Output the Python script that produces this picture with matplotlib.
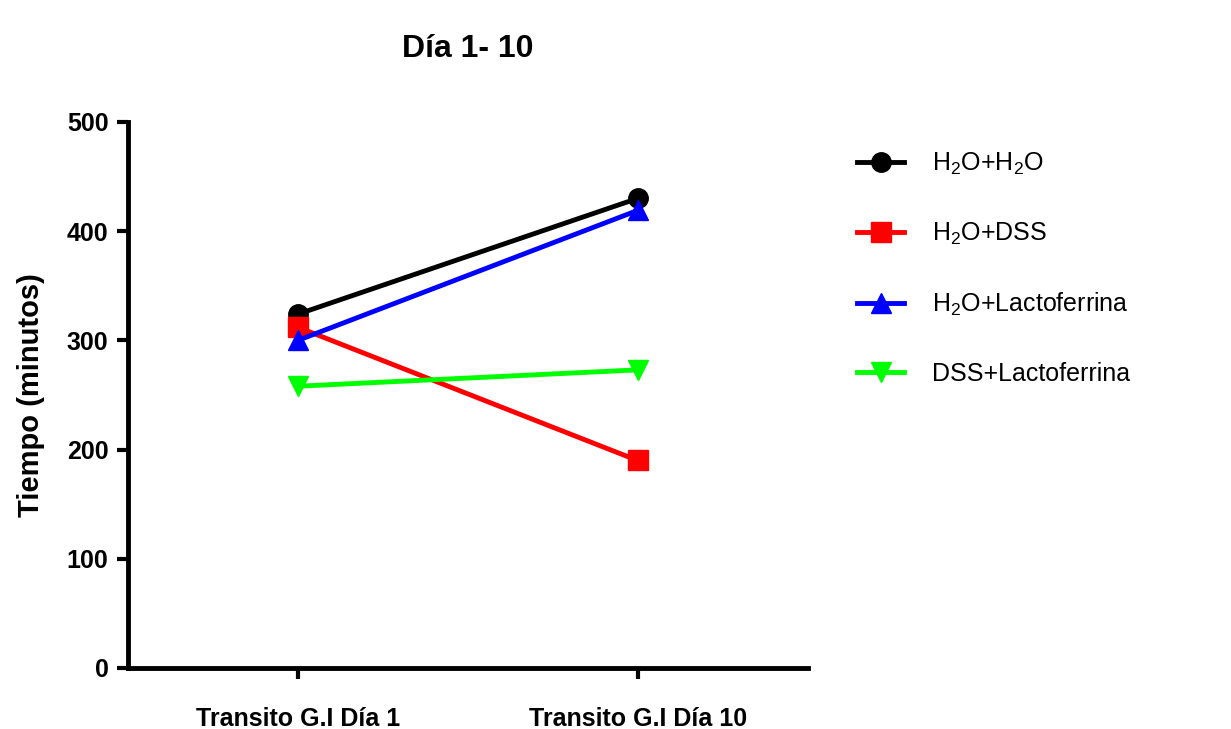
import matplotlib.pyplot as plt

plt.rcParams['font.family'] = ['Liberation Sans', 'DejaVu Sans']
plt.rcParams['mathtext.default'] = 'regular'

# Datos
categorias = ["Transito G.I Día 1", "Transito G.I Día 10"]
grupos = ["H$_2$O+H$_2$O", "H$_2$O+DSS", "H$_2$O+Lactoferrina", "DSS+Lactoferrina"]
h2o_h2o = [324, 430]
h2o_dss = [312, 190]
h2o_lacto = [300, 419]
dss_lacto = [258, 273]

series = [h2o_h2o, h2o_dss, h2o_lacto, dss_lacto]
colores = ["black", "#ff0000", "#0000ff", "#00ff00"]
marcadores = ["o", "s", "^", "v"]

fig = plt.figure(figsize=(12.31, 7.29), dpi=100)
ax = fig.add_axes([0.104, 0.0837, 0.552, 0.749])

x = list(range(len(categorias)))
for vals, nombre, col, mk in zip(series, grupos, colores, marcadores):
    ax.plot(x, vals, color=col, marker=mk, markersize=14, linewidth=3.5, label=nombre)

ax.set_xlim(-0.5, 1.5)
ax.set_ylim(0, 500)
ax.set_yticks([0, 100, 200, 300, 400, 500])
ax.set_xticks(x)
ax.set_xticklabels(categorias, fontsize=18, fontweight='bold')
for lab in ax.get_yticklabels():
    lab.set_fontsize(18)
    lab.set_fontweight('bold')

ax.spines['top'].set_visible(False)
ax.spines['right'].set_visible(False)
ax.spines['left'].set_linewidth(3.5)
ax.spines['bottom'].set_linewidth(3.5)
ax.tick_params(axis='both', direction='out', length=8, width=3, pad=6)
ax.tick_params(axis='x', pad=20)

ax.set_ylabel("Tiempo (minutos)", fontsize=21, fontweight='bold', labelpad=16)
ax.set_title("Día 1- 10", fontsize=23, fontweight='bold', pad=47)

ax.legend(loc='upper left', bbox_to_anchor=(0.696, 0.793), bbox_transform=fig.transFigure,
          frameon=False, fontsize=18, handlelength=1.9, labelspacing=1.75,
          handletextpad=1.1, borderpad=0, borderaxespad=0)

fig.savefig("out.png", dpi=100)
